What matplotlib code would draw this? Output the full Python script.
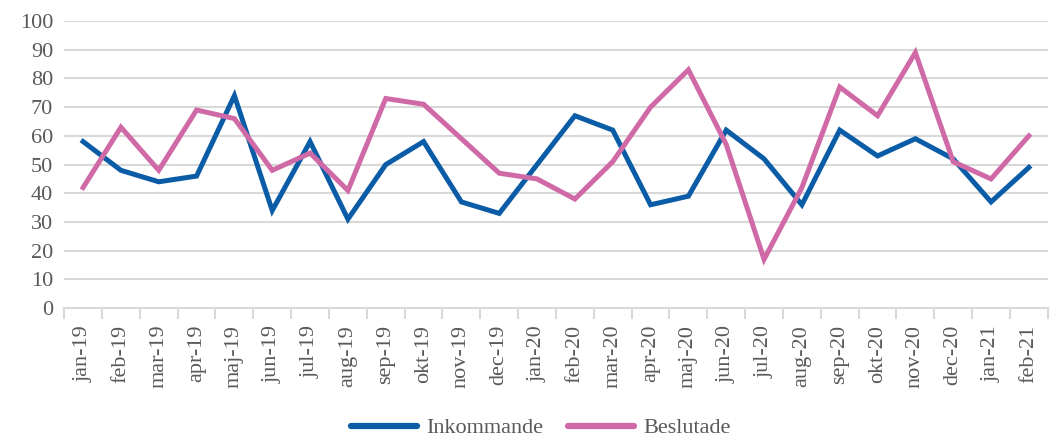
import matplotlib
matplotlib.use("Agg")
import matplotlib.pyplot as plt
import numpy as np

months = ["jan-19", "feb-19", "mar-19", "apr-19", "maj-19", "jun-19", "jul-19", "aug-19",
          "sep-19", "okt-19", "nov-19", "dec-19", "jan-20", "feb-20", "mar-20", "apr-20",
          "maj-20", "jun-20", "jul-20", "aug-20", "sep-20", "okt-20", "nov-20", "dec-20",
          "jan-21", "feb-21"]
inkommande = [58, 48, 44, 46, 74, 34, 58, 31, 50, 58, 37, 33, 50, 67, 62, 36,
              39, 62, 52, 36, 62, 53, 59, 52, 37, 49]
beslutade = [42, 63, 48, 69, 66, 48, 54, 41, 73, 71, 59, 47, 45, 38, 51, 70,
             83, 57, 17, 42, 77, 67, 89, 51, 45, 60]
yticks = list(range(0, 101, 10))

plt.rcParams['font.family'] = ['Liberation Serif', 'DejaVu Serif']
txt = '#595959'
grid = '#d9d9d9'

fig = plt.figure(figsize=(10.52, 4.46), dpi=100)
ax = fig.add_axes([0.061, 0.309, 0.935, 0.644])

x = np.arange(len(months))
ax.plot(x, inkommande, color='#0B5CA7', lw=3.6, label='Inkommande', solid_joinstyle='miter')
ax.plot(x, beslutade, color='#D06AA7', lw=3.6, label='Beslutade', solid_joinstyle='miter')

ax.set_xlim(-0.5, len(months) - 0.5)
ax.set_ylim(0, 100)
ax.set_yticks(yticks)
ax.set_yticklabels([str(v) for v in yticks], fontsize=16, color=txt)
ax.yaxis.grid(True, color=grid, lw=1.5)
ax.set_axisbelow(True)
ax.tick_params(axis='y', length=0, pad=8)

ax.set_xticks(x)
ax.set_xticklabels(months, rotation=90, fontsize=16, color=txt)
ax.set_xticks(np.arange(-0.5, len(months), 1), minor=True)
ax.tick_params(axis='x', which='major', length=0, pad=12)
ax.tick_params(axis='x', which='minor', length=8, width=1.5, color=grid)

for s in ['top', 'right', 'left']:
    ax.spines[s].set_visible(False)
ax.spines['bottom'].set_color(grid)
ax.spines['bottom'].set_linewidth(1.5)

leg = fig.legend(loc='lower center', bbox_to_anchor=(0.514, -0.028), ncol=2, frameon=False,
                 fontsize=16, handlelength=3.0, columnspacing=1.1, handletextpad=0.4)
for t in leg.get_texts():
    t.set_color(txt)
for h in leg.get_lines():
    h.set_linewidth(4.5)
    h.set_solid_capstyle('round')

fig.savefig('out.png', dpi=100)
